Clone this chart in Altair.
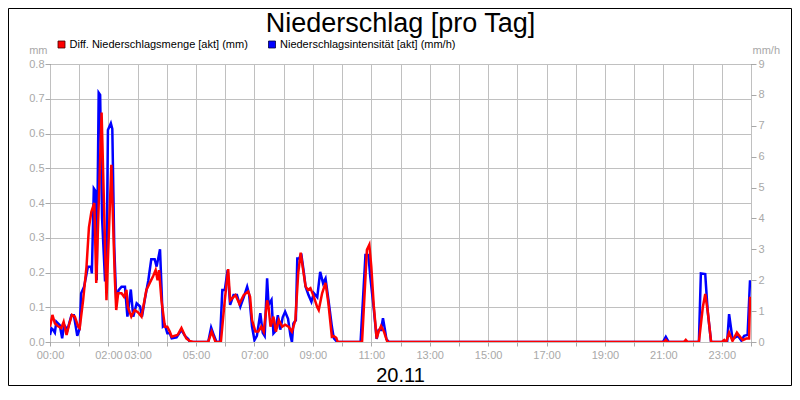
import altair as alt
import pandas as pd

# ---- data (time in minutes since 00:00) ----
red_t = [0, 5, 10, 16, 23, 28, 34, 39, 45, 51, 58, 61, 68, 75, 80, 85, 91, 95, 106, 116,
         126, 133, 136, 140, 147, 152, 157, 160, 167, 174, 181, 188, 198, 205, 212, 217, 221,
         224, 229, 236, 241, 246, 250, 262, 270, 280, 287, 294, 325, 332, 340, 351, 359, 366,
         370, 381, 389, 398, 407, 411, 415, 422, 428, 434, 439, 446, 449, 453, 459, 464, 470,
         477, 483, 490, 497, 504, 510, 515, 519, 525, 530, 535, 542, 549, 552, 559, 566, 572,
         579, 583, 588, 591, 641, 651, 656, 660, 665, 671, 675, 680, 686, 693, 1261, 1265,
         1269, 1302, 1306, 1310, 1333, 1341, 1346, 1351, 1358, 1380, 1385, 1389, 1395, 1402,
         1411, 1423, 1430, 1436, 1438]
red_v = [0.044, 0.078, 0.054, 0.046, 0.04, 0.058, 0.02, 0.049, 0.078, 0.073, 0.044, 0.04,
         0.12, 0.217, 0.33, 0.375, 0.40, 0.17, 0.66, 0.12, 0.51, 0.19, 0.092, 0.14, 0.14, 0.13,
         0.15, 0.10, 0.073, 0.092, 0.085, 0.073, 0.15, 0.17, 0.19, 0.207, 0.178, 0.207, 0.12,
         0.044, 0.044, 0.03, 0.015, 0.02, 0.04, 0.01, 0.003, 0.0, 0.0, 0.03, 0.0, 0.0, 0.12,
         0.21, 0.12, 0.135, 0.11, 0.135, 0.145, 0.13, 0.063, 0.03, 0.03, 0.044, 0.03, 0.12,
         0.10, 0.044, 0.073, 0.03, 0.063, 0.044, 0.05, 0.044, 0.03, 0.063, 0.2, 0.257, 0.217,
         0.16, 0.15, 0.155, 0.13, 0.10, 0.092, 0.14, 0.17, 0.11, 0.015, 0.017, 0.012, 0.0, 0.0,
         0.265, 0.28, 0.217, 0.106, 0.01, 0.03, 0.046, 0.03, 0.0, 0.0, 0.006, 0.0, 0.0, 0.006,
         0.0, 0.0, 0.10, 0.138, 0.09, 0.0, 0.0, 0.006, 0.0, 0.027, 0.003, 0.027, 0.005, 0.01,
         0.01, 0.13]

blue_t = [0, 3, 6, 10, 13, 20, 25, 29, 36, 44, 49, 56, 61, 64, 70, 78, 84, 86, 90, 93, 96,
          100, 103, 107, 113, 116, 119, 125, 128, 132, 136, 141, 147, 154, 159, 166, 171, 178,
          185, 189, 195, 202, 208, 215, 219, 226, 229, 232, 236, 241, 246, 250, 260, 270, 277,
          284, 287, 325, 331, 337, 342, 349, 354, 359, 365, 370, 377, 384, 391, 398, 405, 409,
          415, 420, 425, 432, 437, 441, 446, 449, 455, 459, 463, 468, 473, 478, 483, 489, 494,
          497, 500, 505, 508, 512, 516, 521, 525, 531, 537, 542, 549, 555, 561, 566, 572, 579,
          583, 590, 638, 648, 654, 658, 665, 671, 675, 680, 684, 688, 691, 696, 1259, 1265,
          1271, 1333, 1337, 1346, 1351, 1358, 1391, 1395, 1402, 1413, 1420, 1426, 1433, 1438]
blue_v = [0.23, 0.44, 0.40, 0.30, 0.66, 0.55, 0.12, 0.55, 0.40, 0.87, 0.87, 0.20, 0.44, 1.58,
          1.79, 2.44, 2.44, 2.22, 4.97, 4.90, 2.0, 8.07, 8.0, 4.0, 2.0, 2.0, 6.86, 7.08, 6.9,
          3.08, 1.36, 1.68, 1.79, 1.79, 0.82, 1.70, 0.82, 1.25, 1.15, 0.82, 1.40, 2.0, 2.68,
          2.68, 2.44, 3.0, 1.79, 0.5, 0.55, 0.28, 0.28, 0.12, 0.15, 0.39, 0.2, 0.1, 0.0, 0.0,
          0.47, 0.2, 0.0, 0.0, 1.68, 1.68, 2.33, 1.2, 1.52, 1.52, 1.14, 1.45, 1.79, 1.55, 0.5,
          0.06, 0.2, 0.93, 0.3, 0.2, 2.06, 1.2, 1.36, 0.28, 0.35, 0.87, 0.4, 0.8, 0.98, 0.75,
          0.2, 0.0, 0.6, 0.7, 2.7, 2.7, 2.87, 2.3, 1.79, 1.52, 1.3, 1.58, 1.45, 2.27, 1.9, 2.06,
          1.36, 0.5, 0.12, 0.0, 0.0, 2.82, 2.82, 2.1, 1.09, 0.1, 0.39, 0.39, 0.77, 0.4, 0.1, 0.0,
          0.0, 0.17, 0.0, 0.0, 2.22, 2.2, 1.0, 0.0, 0.0, 0.9, 0.1, 0.2, 0.05, 0.2, 0.23, 2.0]

label_hours = [0, 2, 3, 5, 7, 9, 11, 13, 15, 17, 19, 21, 23]
x_tick_minutes = list(range(0, 1441, 60))
y_left_ticks = [0.0, 0.1, 0.2, 0.3, 0.4, 0.5, 0.6, 0.7, 0.8]
y_right_ticks = [0, 1, 2, 3, 4, 5, 6, 7, 8, 9]

title_text = "Niederschlag [pro Tag]"
date_text = "20.11"
red_name = "Diff. Niederschlagsmenge [akt] (mm)"
blue_name = "Niederschlagsintensität [akt] (mm/h)"
left_unit = "mm"
right_unit = "mm/h"

# ---- styling ----
FONT = "Liberation Sans"
W, H = 701, 278
PAD_L, PAD_T, PAD_R, PAD_B = 42, 56, 41, 44
GRID = "#c0c0c0"
LABEL = "#a8a8a8"
RED = "#ff0000"
BLUE = "#0000ff"

df_red = pd.DataFrame({"t": red_t, "v": red_v})
df_blue = pd.DataFrame({"t": blue_t, "v": blue_v})
one = pd.DataFrame({"k": [0]})

hours_expr = "[" + ",".join(str(h) for h in label_hours) + "]"
label_expr = (f"indexof({hours_expr}, datum.value/60) >= 0 ? "
              "((datum.value < 600 ? '0' : '') + (datum.value/60) + ':00') : ''")

x_enc = alt.X(
    "t:Q",
    scale=alt.Scale(domain=[0, 1440], nice=False, zero=False),
    axis=alt.Axis(values=x_tick_minutes, labelExpr=label_expr, grid=True, gridColor=GRID,
                  tickSize=4, tickColor=LABEL, labelColor=LABEL, labelFontSize=11,
                  labelFont=FONT, labelPadding=3, labelOverlap=False, labelFlush=False,
                  domain=False, title=None),
)

blue = alt.Chart(df_blue).mark_line(color=BLUE, strokeWidth=2.5, clip=True).encode(
    x=x_enc,
    y=alt.Y("v:Q", scale=alt.Scale(domain=[0, 9], nice=False, zero=True),
            axis=alt.Axis(orient="right", values=y_right_ticks, grid=False, tickSize=5,
                          tickColor=LABEL, labelColor=LABEL, labelFontSize=11, labelFont=FONT,
                          labelPadding=2, domain=False, title=right_unit, titleAngle=0,
                          titleX=1, titleY=-14, titleAlign="left", titleBaseline="middle",
                          titleColor=LABEL, titleFont=FONT, titleFontSize=11,
                          titleFontWeight="normal")),
)

red = alt.Chart(df_red).mark_line(color=RED, strokeWidth=2.5, clip=True).encode(
    x=x_enc,
    y=alt.Y("v:Q", scale=alt.Scale(domain=[0, 0.8], nice=False, zero=True),
            axis=alt.Axis(orient="left", values=y_left_ticks, format=".1f", grid=True,
                          gridColor=GRID, tickSize=5, tickColor=LABEL, labelColor=LABEL,
                          labelFontSize=11, labelFont=FONT, labelPadding=1, domain=False,
                          title=left_unit, titleAngle=0, titleX=-3, titleY=-14,
                          titleAlign="right", titleBaseline="middle", titleColor=LABEL,
                          titleFont=FONT, titleFontSize=11, titleFontWeight="normal")),
)

title = alt.Chart(one).mark_text(text=title_text, font=FONT, fontSize=27, color="black",
                                 align="center", baseline="alphabetic").encode(
    x=alt.value(350.5), y=alt.value(-32))
date = alt.Chart(one).mark_text(text=date_text, font=FONT, fontSize=20, color="black",
                                align="center", baseline="alphabetic").encode(
    x=alt.value(350.5), y=alt.value(318))

leg_red_sq = alt.Chart(one).mark_square(size=49, filled=True, color=RED, stroke="#400000",
                                        strokeWidth=0.8, opacity=1).encode(
    x=alt.value(11.5), y=alt.value(-19.5))
leg_red_tx = alt.Chart(one).mark_text(text=red_name, font=FONT, fontSize=11, color="black",
                                      align="left", baseline="middle").encode(
    x=alt.value(19.5), y=alt.value(-19.5))
leg_blue_sq = alt.Chart(one).mark_square(size=49, filled=True, color=BLUE, stroke="#000040",
                                         strokeWidth=0.8, opacity=1).encode(
    x=alt.value(222), y=alt.value(-19.5))
leg_blue_tx = alt.Chart(one).mark_text(text=blue_name, font=FONT, fontSize=11, color="black",
                                       align="left", baseline="middle").encode(
    x=alt.value(230), y=alt.value(-19.5))

frame = alt.Chart(one).mark_rect(filled=False, stroke="black", strokeWidth=1, clip=False).encode(
    x=alt.value(-PAD_L + 0.5), x2=alt.value(W + PAD_R - 0.5),
    y=alt.value(-PAD_T + 0.5), y2=alt.value(H + PAD_B - 0.5))

chart = alt.layer(
    blue, red, title, date, leg_red_sq, leg_red_tx, leg_blue_sq, leg_blue_tx, frame
).resolve_scale(y="independent").properties(
    width=W, height=H,
    autosize=alt.AutoSizeParams(type="none"),
    padding={"left": PAD_L, "top": PAD_T, "right": PAD_R, "bottom": PAD_B},
    background="white",
).configure_view(stroke="black", strokeWidth=1)

chart.save("out.html", embed_options={"renderer": "svg", "actions": False})
